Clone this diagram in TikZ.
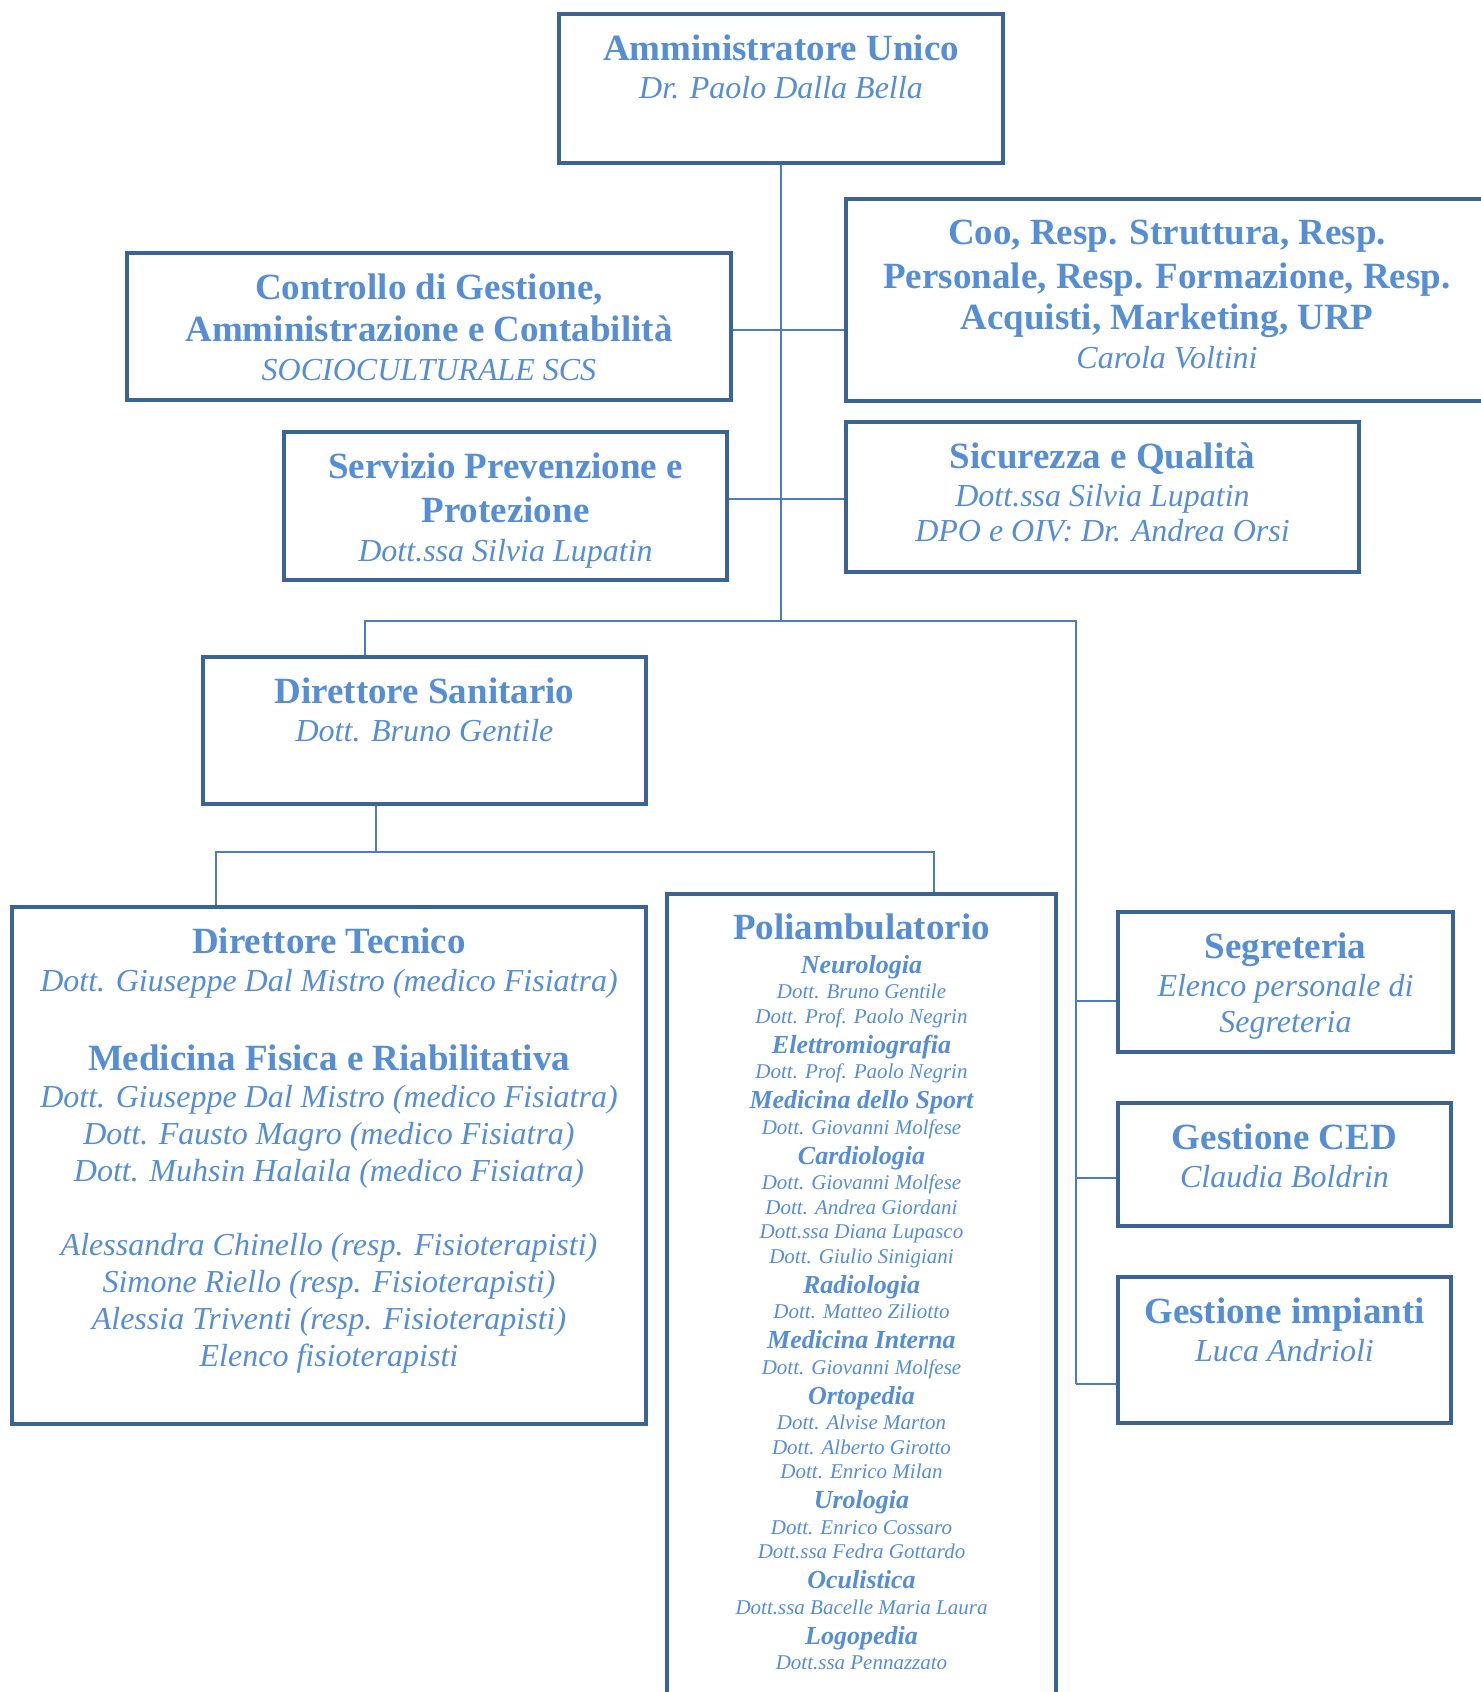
\documentclass[tikz,border=0pt]{standalone}
\usepackage{fontspec}
\setmainfont{Liberation Serif}
\usetikzlibrary{positioning,fit}

\definecolor{boxblue}{RGB}{59,99,150}
\definecolor{txtblue}{RGB}{85,142,213}
\definecolor{lineblue}{RGB}{74,126,187}

% text pieces
\newcommand{\ttl}[1]{{\fontsize{18.5}{18.5}\selectfont\bfseries #1}}
\newcommand{\who}[1]{{\fontsize{16}{16}\selectfont\itshape #1}}
\newcommand{\area}[1]{{\fontsize{13}{13}\selectfont\bfseries\itshape #1}}
\newcommand{\doc}[1]{{\fontsize{10.5}{10.5}\selectfont\itshape #1}}

\lineskiplimit=-100pt

\tikzset{
  orgbox/.style={draw=boxblue, line width=1.9pt, fill=white, inner sep=0pt},
  orgtxt/.style={text=txtblue, align=center, inner sep=0pt, font=\fontsize{16}{18.5}\selectfont},
  politxt/.style={text=txtblue, align=center, inner sep=0pt, font=\fontsize{10.5}{12.25}\selectfont},
  link/.style={draw=lineblue, line width=0.85pt},
}

\begin{document}
\begin{tikzpicture}[x=0.5pt, y=-0.5pt]
    \useasboundingbox (0,0) rectangle (1481,1692);
    \clip (0,0) rectangle (1481,1692);

    % connectors
    \coordinate (rowA) at (782,330);
    \coordinate (rowB) at (782,499);
    \coordinate (dsin) at (365,621);
    \coordinate (rail) at (1076,621);
    \coordinate (segrin) at (1076,1001);
    \coordinate (cedin) at (1076,1178);
    \coordinate (impin) at (1076,1384);
    \coordinate (dsout) at (376,852);
    \coordinate (tecin) at (216,852);
    \coordinate (poliin) at (934,852);

    % boxes
    \node[orgbox, fit={(559,14) (1003,163)}] (amm) {};
    \node[orgbox, fit={(127,253) (731,400)}] (ctrl) {};
    \node[orgbox, fit={(846,199) (1488,401)}] (coo) {};
    \node[orgbox, fit={(284,432) (727,580)}] (spp) {};
    \node[orgbox, fit={(846,422) (1359,572)}] (sic) {};
    \node[orgbox, fit={(203,657) (646,804)}] (dsan) {};
    \node[orgbox, fit={(12,907) (646,1424)}] (dtec) {};
    \node[orgbox, fit={(667,894) (1056,1720)}] (poli) {};
    \node[orgbox, fit={(1118,912) (1453,1052)}] (segr) {};
    \node[orgbox, fit={(1118,1103) (1451,1226)}] (ced) {};
    \node[orgbox, fit={(1118,1277) (1451,1423)}] (imp) {};

    \draw[link] (amm.south) -- (amm.south |- rail);
    \draw[link] (ctrl.east |- rowA) -- (coo.west |- rowA);
    \draw[link] (spp.east |- rowB) -- (sic.west |- rowB);
    \draw[link] (dsin |- dsan.north) -- (dsin) -- (rail) -- (impin);
    \draw[link] (segrin) -- (segrin -| segr.west);
    \draw[link] (cedin) -- (cedin -| ced.west);
    \draw[link] (impin) -- (impin -| imp.west);
    \draw[link] (dsout |- dsan.south) -- (dsout);
    \draw[link] (tecin |- dtec.north) -- (tecin) -- (poliin) -- (poliin |- poli.north);

    % texts
    \node[orgtxt, below=11pt of amm.north] (amm-t)
      {\ttl{Amministratore Unico}\\[0.8pt] \who{Dr. Paolo Dalla Bella}};
    \node[orgtxt, below=11pt of ctrl.north] (ctrl-t)
      {\ttl{Controllo di Gestione,}\\[2.5pt] \ttl{Amministrazione e Contabilità}\\[1.3pt]
       \who{SOCIOCULTURALE SCS}};
    \node[orgtxt, below=11pt of coo.north] (coo-t)
      {\ttl{Coo, Resp. Struttura, Resp.}\\[3.5pt] \ttl{Personale, Resp. Formazione, Resp.}\\[2pt]
       \ttl{Acquisti, Marketing, URP}\\[1.3pt] \who{Carola Voltini}};
    \node[orgtxt, below=11pt of spp.north] (spp-t)
      {\ttl{Servizio Prevenzione e}\\[3.5pt] \ttl{Protezione}\\[1.3pt] \who{Dott.ssa Silvia Lupatin}};
    \node[orgtxt, below=11pt of sic.north] (sic-t)
      {\ttl{Sicurezza e Qualità}\\[0.8pt] \who{Dott.ssa Silvia Lupatin}\\[-1pt]
       \who{DPO e OIV: Dr. Andrea Orsi}};
    \node[orgtxt, below=11pt of dsan.north] (dsan-t)
      {\ttl{Direttore Sanitario}\\[0.8pt] \who{Dott. Bruno Gentile}};
    \node[orgtxt, below=11pt of dtec.north] (dtec-t)
      {\ttl{Direttore Tecnico}\\[0.8pt]
       \who{Dott. Giuseppe Dal Mistro (medico Fisiatra)}\\[20.7pt]
       \ttl{Medicina Fisica e Riabilitativa}\\[0.3pt]
       \who{Dott. Giuseppe Dal Mistro (medico Fisiatra)}\\
       \who{Dott. Fausto Magro (medico Fisiatra)}\\
       \who{Dott. Muhsin Halaila (medico Fisiatra)}\\[18.5pt]
       \who{Alessandra Chinello (resp. Fisioterapisti)}\\
       \who{Simone Riello (resp. Fisioterapisti)}\\
       \who{Alessia Triventi (resp. Fisioterapisti)}\\
       \who{Elenco fisioterapisti}};
    \node[politxt, below=10.5pt of poli.north] (poli-t)
      {\ttl{Poliambulatorio}\\[4.75pt]
       \area{Neurologia}\\[0.5pt]
       \doc{Dott. Bruno Gentile}\\
       \doc{Dott. Prof. Paolo Negrin}\\[2.75pt]
       \area{Elettromiografia}\\[0.5pt]
       \doc{Dott. Prof. Paolo Negrin}\\[2.75pt]
       \area{Medicina dello Sport}\\[0.5pt]
       \doc{Dott. Giovanni Molfese}\\[2.75pt]
       \area{Cardiologia}\\[0.5pt]
       \doc{Dott. Giovanni Molfese}\\
       \doc{Dott. Andrea Giordani}\\
       \doc{Dott.ssa Diana Lupasco}\\
       \doc{Dott. Giulio Sinigiani}\\[2.75pt]
       \area{Radiologia}\\[0.5pt]
       \doc{Dott. Matteo Ziliotto}\\[2.75pt]
       \area{Medicina Interna}\\[0.5pt]
       \doc{Dott. Giovanni Molfese}\\[2.75pt]
       \area{Ortopedia}\\[0.5pt]
       \doc{Dott. Alvise Marton}\\
       \doc{Dott. Alberto Girotto}\\
       \doc{Dott. Enrico Milan}\\[2.75pt]
       \area{Urologia}\\[0.5pt]
       \doc{Dott. Enrico Cossaro}\\
       \doc{Dott.ssa Fedra Gottardo}\\[2.75pt]
       \area{Oculistica}\\[0.5pt]
       \doc{Dott.ssa Bacelle Maria Laura}\\[2.75pt]
       \area{Logopedia}\\[0.5pt]
       \doc{Dott.ssa Pennazzato}};
    \node[orgtxt, below=11pt of segr.north] (segr-t)
      {\ttl{Segreteria}\\[0.8pt] \who{Elenco personale di}\\[-0.5pt] \who{Segreteria}};
    \node[orgtxt, below=11pt of ced.north] (ced-t)
      {\ttl{Gestione CED}\\[0.8pt] \who{Claudia Boldrin}};
    \node[orgtxt, below=11pt of imp.north] (imp-t)
      {\ttl{Gestione impianti}\\[0.8pt] \who{Luca Andrioli}};
\end{tikzpicture}
\end{document}
